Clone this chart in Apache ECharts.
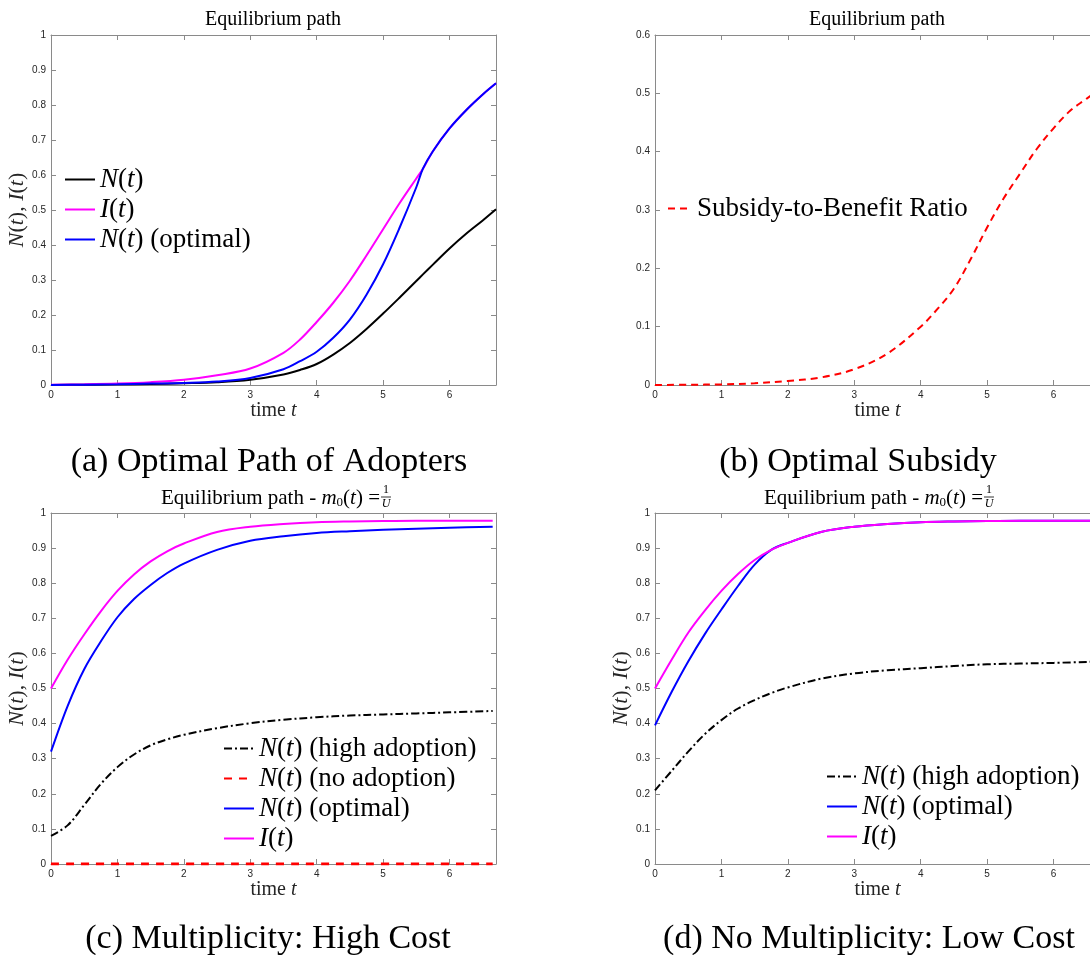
<!DOCTYPE html>
<html>
<head>
<meta charset="utf-8">
<script src="https://cdn.jsdelivr.net/npm/echarts@6/dist/echarts.min.js"></script>
<style>
html,body{margin:0;padding:0;background:#fff;}
#c{width:1090px;height:955px;}
</style>
</head>
<body>
<div id="c"></div>
<script>
// ---------- data ----------
// Panel (a): Optimal Path of Adopters
const T_A = [0,0.5,1,1.5,2,2.5,3,3.5,3.75,4,4.25,4.5,4.75,5,5.25,5.5,5.6,5.75,6,6.25,6.5,6.7];
const N_A = [0,0.001,0.002,0.003,0.005,0.008,0.015,0.03,0.043,0.06,0.087,0.12,0.16,0.204,0.25,0.297,0.316,0.344,0.39,0.432,0.47,0.502];
const I_A = [0.001,0.002,0.004,0.008,0.015,0.028,0.047,0.092,0.13,0.18,0.235,0.298,0.37,0.445,0.52,0.59,0.618,0.668,0.733,0.785,0.83,0.862];
const NOPT_A = [0,0.001,0.002,0.004,0.006,0.01,0.02,0.045,0.068,0.095,0.135,0.187,0.258,0.345,0.45,0.565,0.618,0.668,0.733,0.785,0.83,0.862];
// Panel (b): Optimal Subsidy
const T_B = [0,0.5,1,1.5,2,2.5,3,3.5,4,4.25,4.5,4.75,5,5.25,5.5,5.75,6,6.25,6.5,6.7];
const S_B = [0,0.0005,0.001,0.003,0.007,0.013,0.027,0.054,0.10,0.13,0.165,0.215,0.27,0.32,0.363,0.405,0.44,0.47,0.491,0.508];
// Panel (c): Multiplicity: High Cost
const T_C = [0,0.25,0.5,0.75,1,1.25,1.5,1.75,2,2.5,3,3.5,4,4.5,5,5.5,6,6.65];
const I_C = [0.5,0.582,0.654,0.72,0.778,0.825,0.862,0.891,0.913,0.946,0.961,0.969,0.974,0.976,0.977,0.978,0.978,0.978];
const NOPT_C = [0.32,0.45,0.555,0.634,0.703,0.755,0.795,0.829,0.856,0.895,0.921,0.934,0.943,0.948,0.952,0.955,0.958,0.961];
const NH_C = [0.08,0.11,0.168,0.228,0.276,0.312,0.338,0.355,0.368,0.387,0.401,0.411,0.418,0.423,0.426,0.429,0.432,0.436];
const NO_C = [0,0,0,0,0,0,0,0,0,0,0,0,0,0,0,0,0,0];
// Panel (d): No Multiplicity: Low Cost
const T_D = [0,0.25,0.5,0.75,1,1.25,1.5,1.75,2,2.5,3,3.5,4,4.5,5,5.5,6,6.7];
const I_D = [0.5,0.582,0.659,0.722,0.778,0.826,0.866,0.895,0.915,0.946,0.961,0.969,0.974,0.976,0.977,0.978,0.978,0.978];
const NOPT_D = [0.395,0.49,0.577,0.655,0.725,0.792,0.853,0.895,0.915,0.946,0.961,0.969,0.974,0.976,0.977,0.978,0.978,0.978];
const NH_D = [0.21,0.265,0.32,0.37,0.41,0.443,0.467,0.487,0.503,0.528,0.543,0.552,0.558,0.564,0.569,0.571,0.573,0.577];

const X_MAX = 6.7;
const CAPTIONS = ['(a) Optimal Path of Adopters','(b) Optimal Subsidy','(c) Multiplicity: High Cost','(d) No Multiplicity: Low Cost'];

// ---------- layout ----------
const SERIF = '"Liberation Serif", "DejaVu Serif", serif';
const SANS = '"Liberation Sans", Arial, sans-serif';
const GRIDS = [
  {left:51, top:35, width:445, height:350},
  {left:655, top:35, width:445, height:350},
  {left:51, top:513, width:445, height:351},
  {left:655, top:513, width:445, height:351}
];
const YMAX = [1, 0.6, 1, 1];
const AX = '#8a8a8a';

const zip = (t, v) => t.map((x, i) => [x, v[i]]);

const richBase = {
  r: {fontFamily: SERIF, fontSize: 27, lineHeight: 30, color: '#000'},
  i: {fontFamily: SERIF, fontSize: 27, lineHeight: 30, fontStyle: 'italic', color: '#000'}
};
const LEG_TXT = {
  'N(t)': '{i|N}{r|(}{i|t}{r|)}',
  'I(t)': '{i|I}{r|(}{i|t}{r|)}',
  'N(t) (optimal)': '{i|N}{r|(}{i|t}{r|) (optimal)}',
  'N(t) (high adoption)': '{i|N}{r|(}{i|t}{r|) (high adoption)}',
  'N(t) (no adoption)': '{i|N}{r|(}{i|t}{r|) (no adoption)}',
  'Subsidy-to-Benefit Ratio': '{r|Subsidy-to-Benefit Ratio}'
};
const nameRich = {
  r: {fontFamily: SERIF, fontSize: 20, color: '#262626'},
  i: {fontFamily: SERIF, fontSize: 20, fontStyle: 'italic', color: '#262626'}
};
const yNameRich = {
  r: {fontFamily: SERIF, fontSize: 22, color: '#262626'},
  i: {fontFamily: SERIF, fontSize: 22, fontStyle: 'italic', color: '#262626'}
};

const xAxes = [], yAxes = [], grids = [];
const lineCfg = {show: true, onZero: false, lineStyle: {color: AX, width: 1}};
const tickCfg = {show: true, inside: true, length: 5, lineStyle: {color: AX}};
GRIDS.forEach((g, k) => {
  grids.push(Object.assign({containLabel: false, outerBoundsMode: 'none'}, g));
  xAxes.push({
    type: 'value', gridIndex: k, min: 0, max: X_MAX, interval: 1, position: 'bottom',
    splitLine: {show: false}, axisLine: lineCfg, axisTick: tickCfg,
    axisLabel: {show: true, fontFamily: SANS, fontSize: 10, color: '#262626', margin: 5, showMaxLabel: false},
    name: '{r|time }{i|t}', nameLocation: 'middle', nameGap: 15,
    nameTextStyle: {rich: nameRich}
  });
  xAxes.push({
    type: 'value', gridIndex: k, min: 0, max: X_MAX, interval: 1, position: 'top',
    splitLine: {show: false}, axisLine: lineCfg, axisTick: tickCfg, axisLabel: {show: false}
  });
  yAxes.push({
    type: 'value', gridIndex: k, min: 0, max: YMAX[k], interval: 0.1, position: 'left',
    splitLine: {show: false}, axisLine: lineCfg, axisTick: tickCfg,
    axisLabel: {show: true, fontFamily: SANS, fontSize: 10, color: '#262626', margin: 5},
    name: k === 1 ? '' : '{i|N}{r|(}{i|t}{r|), }{i|I}{r|(}{i|t}{r|)}',
    nameLocation: 'middle', nameGap: 22, nameRotate: 90,
    nameTextStyle: {rich: yNameRich}
  });
  yAxes.push({
    type: 'value', gridIndex: k, min: 0, max: YMAX[k], interval: 0.1, position: 'right',
    splitLine: {show: false}, axisLine: lineCfg, axisTick: tickCfg, axisLabel: {show: false}
  });
});

function line(name, k, t, v, color, width, type, z) {
  return {
    type: 'line', name, xAxisIndex: 2 * k, yAxisIndex: 2 * k, data: zip(t, v),
    showSymbol: false, symbol: 'none', smooth: 0.35, silent: true, z: z || 2,
    lineStyle: {color, width, type: type || 'solid'}, itemStyle: {color}
  };
}
const DASHDOT = [8, 3, 2, 3];
const series = [
  line('N(t)', 0, T_A, N_A, '#000000', 2),
  line('I(t)', 0, T_A, I_A, '#ff00ff', 2),
  line('N(t) (optimal)', 0, T_A, NOPT_A, '#0000ff', 2, 'solid', 3),
  line('Subsidy-to-Benefit Ratio', 1, T_B, S_B, '#ff0000', 2, [7, 5]),
  line('N(t) (high adoption)', 2, T_C, NH_C, '#000000', 2, DASHDOT),
  line('N(t) (no adoption)', 2, T_C, NO_C, '#ff0000', 3, [8, 7]),
  line('N(t) (optimal)', 2, T_C, NOPT_C, '#0000ff', 2),
  line('I(t)', 2, T_C, I_C, '#ff00ff', 2),
  line('N(t) (high adoption)', 3, T_D, NH_D, '#000000', 2, DASHDOT),
  line('N(t) (optimal)', 3, T_D, NOPT_D, '#0000ff', 2),
  line('I(t)', 3, T_D, I_D, '#ff00ff', 2, 'solid', 3)
];

function legend(data, left, top, iw) {
  return {
    data, left, top, orient: 'vertical', itemWidth: iw || 30, itemHeight: 14, itemGap: 3,
    padding: 0, selectedMode: false,
    itemStyle: {opacity: 0, borderWidth: 0},
    formatter: n => LEG_TXT[n],
    textStyle: {rich: richBase}
  };
}

// titles / captions via graphic
const graphics = [];
function titlePlain(cx, cy, txt) {
  graphics.push({type: 'text', x: cx, y: cy, silent: true,
    style: {text: txt, font: '20px ' + SERIF, fill: '#000', align: 'center', verticalAlign: 'middle'}});
}
function titleFrac(fracX, cy) {
  graphics.push({type: 'text', x: fracX - 6, y: cy, silent: true,
    style: {text: '{r|Equilibrium path - }{i|m}{s|0}{r|(}{i|t}{r|) =}', align: 'right', verticalAlign: 'middle',
      rich: {
        r: {fontFamily: SERIF, fontSize: 21, color: '#000'},
        i: {fontFamily: SERIF, fontSize: 21, fontStyle: 'italic', color: '#000'},
        s: {fontFamily: SERIF, fontSize: 13, color: '#000', padding: [9, 0, 0, 0]}
      }}});
  graphics.push({type: 'text', x: fracX, y: cy - 8, silent: true,
    style: {text: '1', font: '12px ' + SERIF, fill: '#000', align: 'center', verticalAlign: 'middle'}});
  graphics.push({type: 'line', silent: true, shape: {x1: fracX - 5, y1: cy - 1, x2: fracX + 5, y2: cy - 1},
    style: {stroke: '#000', lineWidth: 0.8}});
  graphics.push({type: 'text', x: fracX, y: cy + 6, silent: true,
    style: {text: 'U', font: 'italic 12px ' + SERIF, fill: '#000', align: 'center', verticalAlign: 'middle'}});
}
titlePlain(273, 20, 'Equilibrium path');
titlePlain(877, 20, 'Equilibrium path');
titleFrac(386, 498);
titleFrac(989, 498);

function caption(cx, cy, txt) {
  graphics.push({type: 'text', x: cx, y: cy, silent: true,
    style: {text: txt, font: '34px ' + SERIF, fill: '#000', align: 'center', verticalAlign: 'middle'}});
}
caption(269, 462, CAPTIONS[0]);
caption(858, 462, CAPTIONS[1]);
caption(268, 939, CAPTIONS[2]);
caption(869, 939, CAPTIONS[3]);

const chart = echarts.init(document.getElementById('c'), null, {renderer: 'canvas'});
chart.setOption({
  animation: false,
  backgroundColor: '#fff',
  grid: grids,
  xAxis: xAxes,
  yAxis: yAxes,
  legend: [
    legend(['N(t)', 'I(t)', 'N(t) (optimal)'], 64, 166),
    legend(['Subsidy-to-Benefit Ratio'], 667, 195, 24),
    legend(['N(t) (high adoption)', 'N(t) (no adoption)', 'N(t) (optimal)', 'I(t)'], 223, 735),
    legend(['N(t) (high adoption)', 'N(t) (optimal)', 'I(t)'], 826, 763)
  ],
  series,
  graphic: graphics
});
</script>
</body>
</html>
